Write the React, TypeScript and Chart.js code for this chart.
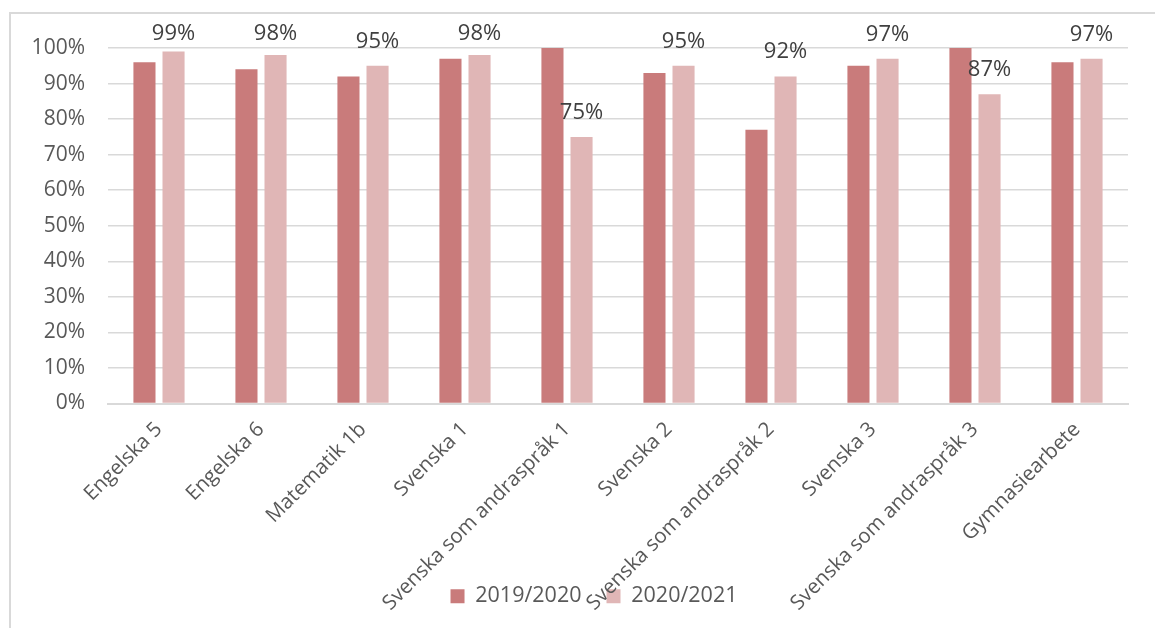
import React, { useEffect, useRef } from "react";
import { Chart, registerables } from "chart.js";

Chart.register(...registerables);

const categories = [
  "Engelska 5",
  "Engelska 6",
  "Matematik 1b",
  "Svenska 1",
  "Svenska som andraspråk 1",
  "Svenska 2",
  "Svenska som andraspråk 2",
  "Svenska 3",
  "Svenska som andraspråk 3",
  "Gymnasiearbete",
];
const series2019 = [96, 94, 92, 97, 100, 93, 77, 95, 100, 96];
const series2020 = [99, 98, 95, 98, 75, 95, 92, 97, 87, 97];
const seriesNames = ["2019/2020", "2020/2021"];
const yTickValues = [0, 10, 20, 30, 40, 50, 60, 70, 80, 90, 100];

const FONT = "'Open Sans', 'Noto Sans', sans-serif";

const dataLabelPlugin = {
  id: "dataLabels",
  afterDatasetsDraw(chart: any) {
    const { ctx, chartArea } = chart;
    const meta = chart.getDatasetMeta(1);
    const ds = chart.data.datasets[1];
    ctx.save();
    ctx.font = `22px ${FONT}`;
    ctx.fillStyle = "#404040";
    ctx.textAlign = "center";
    ctx.textBaseline = "alphabetic";
    meta.data.forEach((bar: any, i: number) => {
      const y = Math.max(bar.y - 18, chartArea.top - 8);
      ctx.fillText(`${ds.data[i]}%`, bar.x, y);
    });
    ctx.restore();
  },
};

export default function App() {
  const ref = useRef<HTMLCanvasElement | null>(null);

  useEffect(() => {
    if (!ref.current) return;
    const chart = new Chart(ref.current, {
      type: "bar",
      data: {
        labels: categories,
        datasets: [
          {
            label: seriesNames[0],
            data: series2019,
            backgroundColor: "#C97B7B",
            categoryPercentage: 0.57,
            barPercentage: 0.76,
          },
          {
            label: seriesNames[1],
            data: series2020,
            backgroundColor: "#E0B6B6",
            categoryPercentage: 0.57,
            barPercentage: 0.76,
          },
        ],
      },
      options: {
        animation: false,
        responsive: false,
        maintainAspectRatio: false,
        layout: { padding: { top: 48, right: 27, bottom: 11, left: 60 } },
        plugins: {
          legend: {
            position: "bottom",
            labels: {
              boxWidth: 14,
              boxHeight: 14,
              padding: 25,
              color: "#595959",
              font: { family: FONT, size: 21.5 },
            },
          },
          tooltip: { enabled: false },
        },
        scales: {
          x: {
            grid: { display: false },
            border: { display: true, color: "#D9D9D9", width: 2 },
            ticks: {
              minRotation: 45,
              maxRotation: 45,
              padding: 6,
              color: "#595959",
              font: { family: FONT, size: 20.5 },
            },
            afterFit(scale: any) {
              scale.height = 157;
              scale._computeLabelArea = () => undefined;
            },
          },
          y: {
            min: 0,
            max: 100,
            afterBuildTicks(scale: any) {
              scale.ticks = yTickValues.map((v) => ({ value: v }));
            },
            grid: { color: "#D9D9D9", lineWidth: 1.5, drawTicks: false },
            border: { display: false },
            ticks: {
              padding: 23,
              color: "#595959",
              font: { family: FONT, size: 21 },
              callback: (v: any) => `${v}%`,
            },
            afterFit(scale: any) {
              scale.width = 48;
              scale._computeLabelArea = () => undefined;
            },
          },
        },
      },
      plugins: [dataLabelPlugin],
    });
    return () => chart.destroy();
  }, []);

  return (
    <div
      style={{
        position: "fixed",
        left: 0,
        top: 0,
        width: 1155,
        height: 628,
        background: "#fff",
        overflow: "hidden",
      }}
    >
      <div
        style={{
          position: "absolute",
          left: 9,
          top: 12,
          right: -10,
          bottom: -10,
          borderLeft: "2px solid #D9D9D9",
          borderTop: "2px solid #D9D9D9",
        }}
      />
      <canvas
        ref={ref}
        width={1155}
        height={628}
        style={{ position: "absolute", left: 0, top: 0, width: 1155, height: 628 }}
      />
    </div>
  );
}
